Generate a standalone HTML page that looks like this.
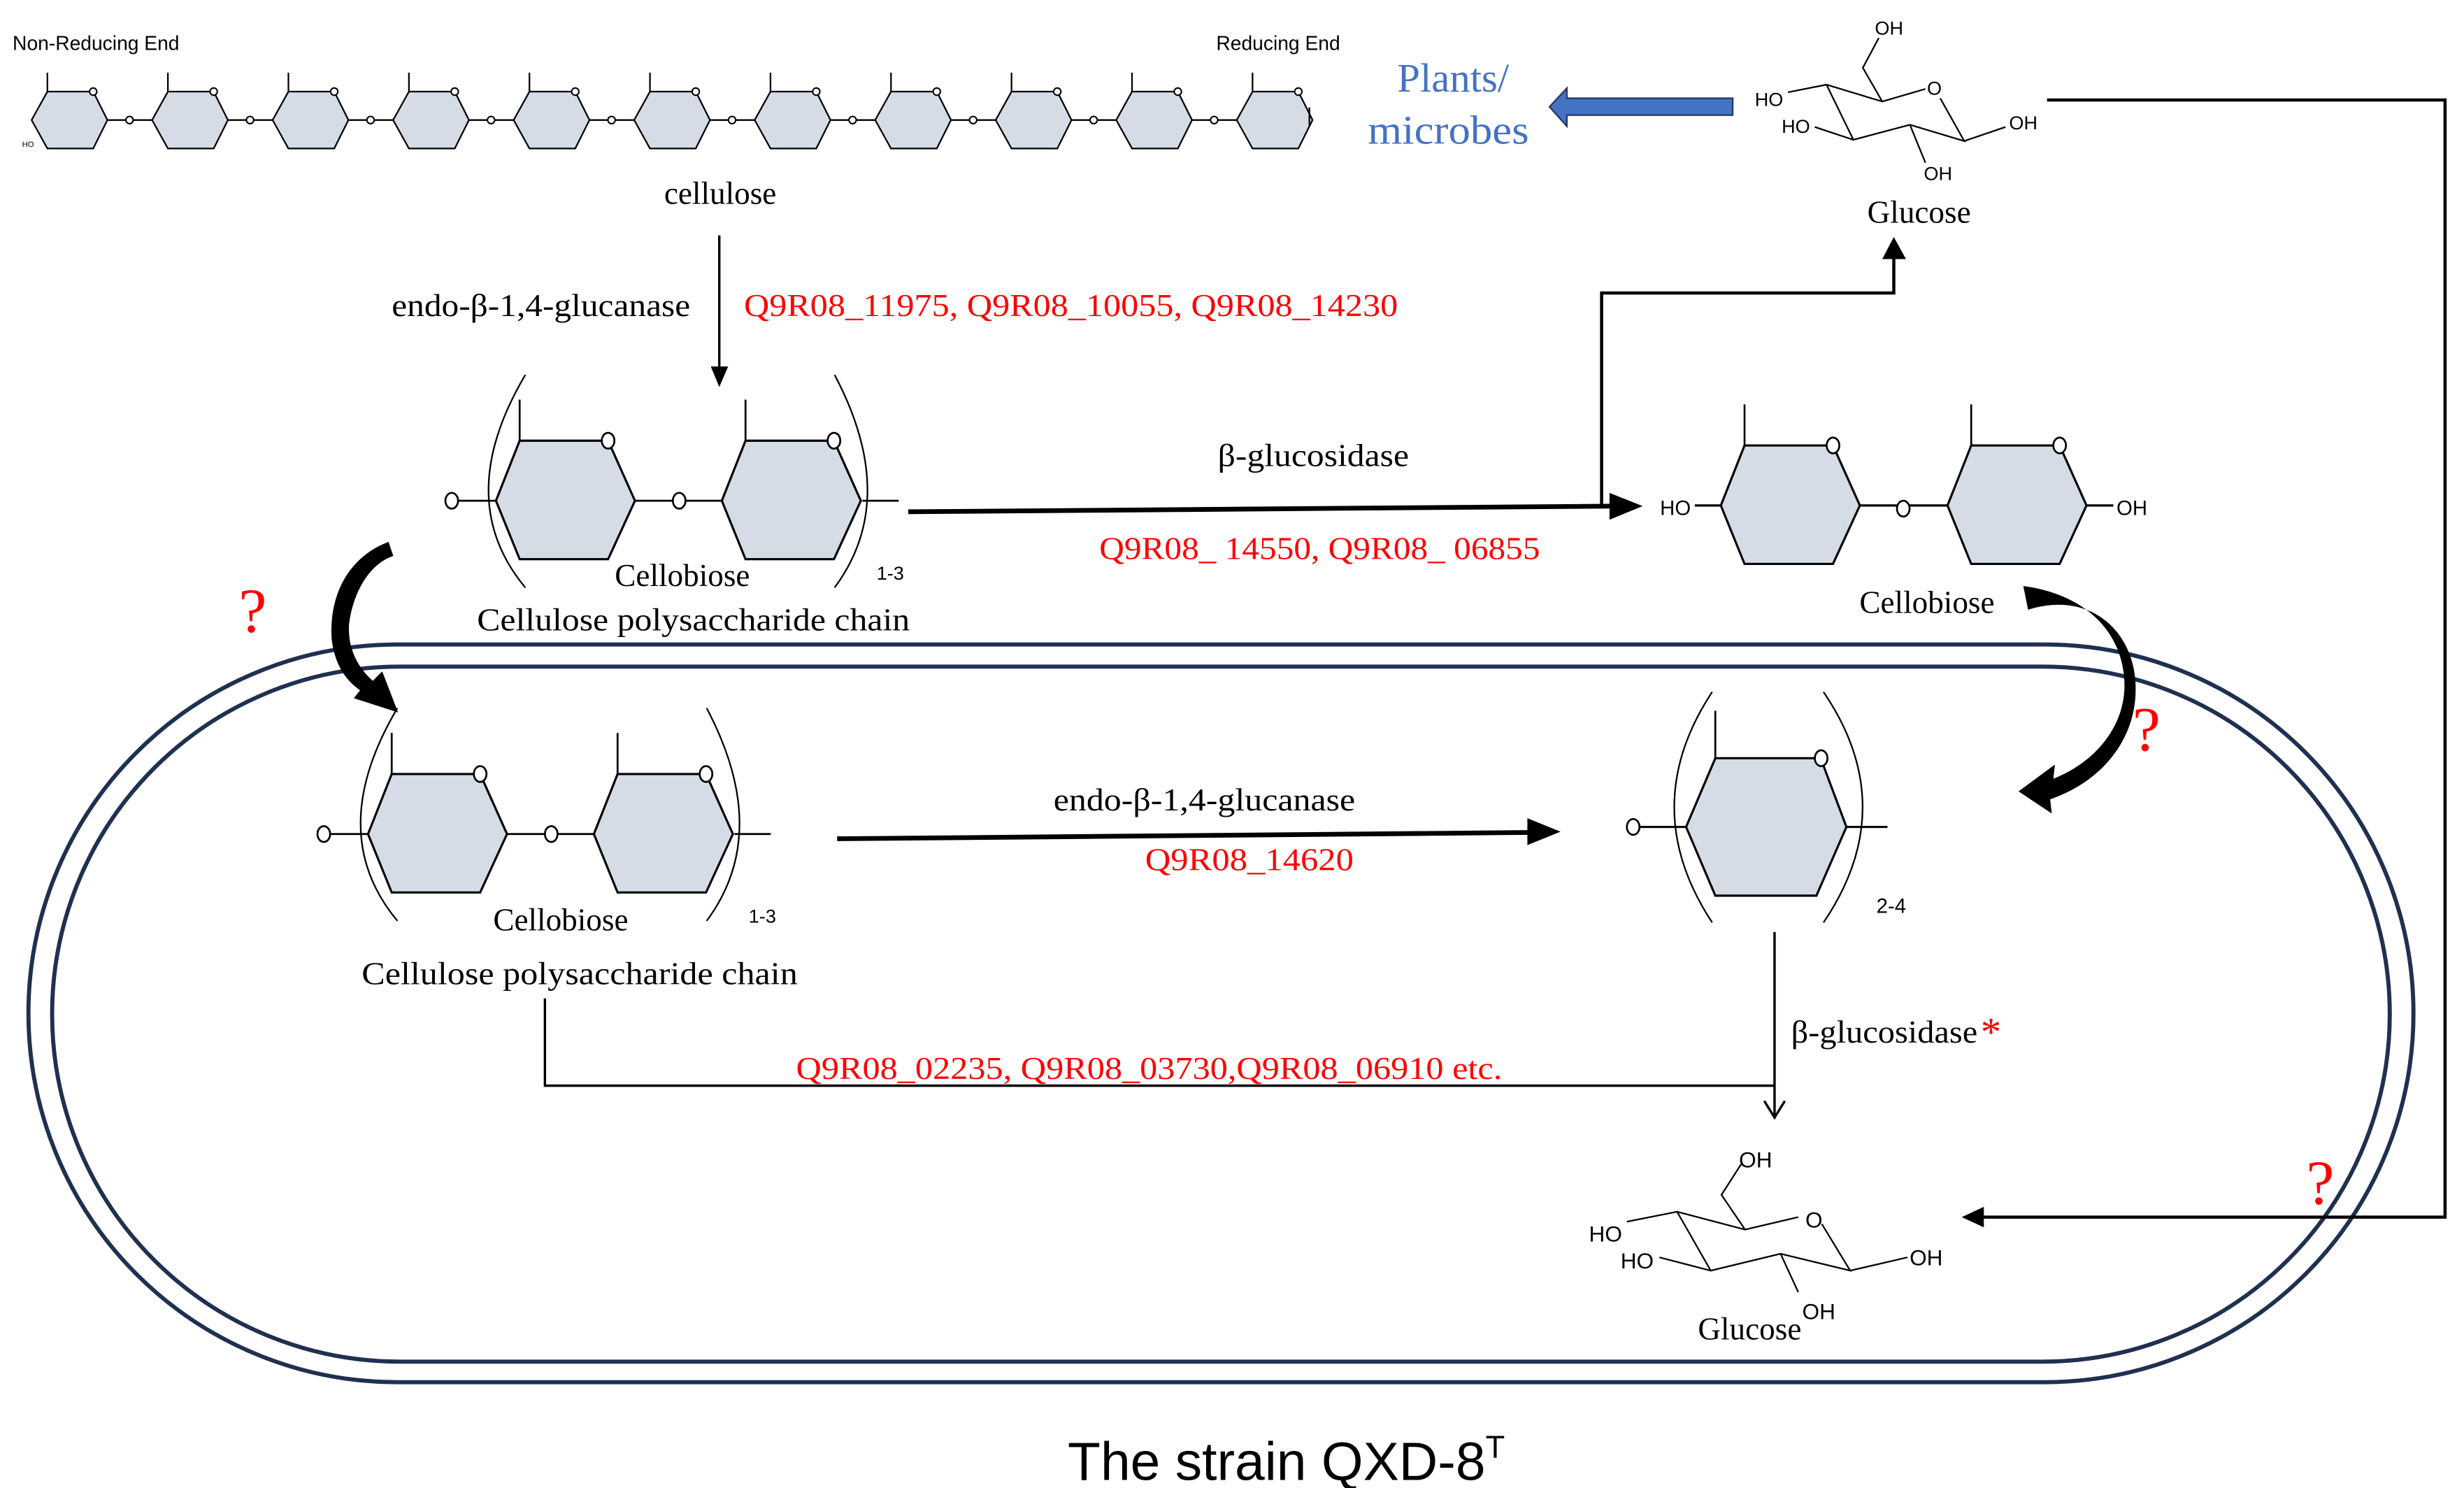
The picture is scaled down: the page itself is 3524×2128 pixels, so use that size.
<!DOCTYPE html>
<html><head><meta charset="utf-8"><style>
html,body{margin:0;padding:0;background:#fff;}
svg{display:block;}
.s{font-family:"Liberation Serif",serif;}
.a{font-family:"Liberation Sans",sans-serif;}
</style></head><body>
<svg width="3524" height="2128" viewBox="0 0 1560 942" preserveAspectRatio="none" xmlns="http://www.w3.org/2000/svg">
<defs>
<g id="ch">
 <line x1="10" y1="58" x2="10" y2="46" stroke="#000" stroke-width="1"/>
 <polygon points="0,76 10,58 39,58 48,76 39,94 10,94" fill="#d5dce6" stroke="#000" stroke-width="1"/>
 <circle cx="39" cy="58" r="2.3" fill="#fff" stroke="#000" stroke-width="0.9"/>
</g>
<g id="lk">
 <line x1="0" y1="76" x2="28.3" y2="76" stroke="#000" stroke-width="1"/>
 <circle cx="14" cy="76" r="2.3" fill="#fff" stroke="#000" stroke-width="0.9"/>
</g>
<g id="hx">
 <line x1="15" y1="-38" x2="15" y2="-64" stroke="#000" stroke-width="1.2"/>
 <polygon points="0,0 15,-38 71,-38 88,0 71,37 15,37" fill="#d5dce6" stroke="#000" stroke-width="1.4"/>
 <ellipse cx="71" cy="-38" rx="4" ry="5" fill="#fff" stroke="#000" stroke-width="1.2"/>
</g>
<g id="cb">
 <line x1="290" y1="317" x2="314" y2="317" stroke="#000" stroke-width="1.2"/>
 <line x1="402" y1="317" x2="457" y2="317" stroke="#000" stroke-width="1.2"/>
 <line x1="546" y1="317" x2="569" y2="317" stroke="#000" stroke-width="1.2"/>
 <ellipse cx="286" cy="317" rx="4" ry="5" fill="#fff" stroke="#000" stroke-width="1.2"/>
 <use href="#hx" x="314" y="317"/>
 <use href="#hx" x="457" y="317"/>
 <ellipse cx="430" cy="317" rx="4" ry="5" fill="#fff" stroke="#000" stroke-width="1.2"/>
 <path d="M332.6,237.3 Q286,316 332.6,372" fill="none" stroke="#000" stroke-width="1"/>
 <path d="M528.4,237.3 Q570,316 528.4,372" fill="none" stroke="#000" stroke-width="1"/>
</g>
</defs>

<!-- membrane -->
<rect x="18" y="408" width="1510" height="467" rx="233.5" ry="233.5" fill="none" stroke="#1f3050" stroke-width="2.6"/>
<rect x="33" y="422" width="1480" height="440" rx="220" ry="220" fill="none" stroke="#1f3050" stroke-width="2.6"/>

<!-- chain -->
<text x="8" y="31.6" class="a" font-size="12.5">Non-Reducing End</text>
<text x="770" y="31.6" class="a" font-size="12.5">Reducing End</text>
<g>
<use href="#lk" x="68"/><use href="#lk" x="144.3"/><use href="#lk" x="220.6"/><use href="#lk" x="296.9"/><use href="#lk" x="373.2"/><use href="#lk" x="449.5"/><use href="#lk" x="525.8"/><use href="#lk" x="602.1"/><use href="#lk" x="678.4"/><use href="#lk" x="754.7"/>
<use href="#ch" x="20"/><use href="#ch" x="96.3"/><use href="#ch" x="172.6"/><use href="#ch" x="248.9"/><use href="#ch" x="325.2"/><use href="#ch" x="401.5"/><use href="#ch" x="477.8"/><use href="#ch" x="554.1"/><use href="#ch" x="630.4"/><use href="#ch" x="706.7"/><use href="#ch" x="783"/>
<line x1="829" y1="68" x2="829" y2="80" stroke="#000" stroke-width="1"/>
<text x="14" y="93" class="a" font-size="5">HO</text>
</g>
<text x="456" y="129" class="s" font-size="20" text-anchor="middle">cellulose</text>

<!-- arrow down -->
<line x1="455.4" y1="149" x2="455.4" y2="234" stroke="#000" stroke-width="1.5"/>
<polygon points="450,232 461,232 455.4,245" fill="#000"/>
<text x="248" y="200" class="s" font-size="20" textLength="189" lengthAdjust="spacingAndGlyphs">endo-β-1,4-glucanase</text>
<text x="471" y="200" class="s" font-size="20" fill="#f00" textLength="414" lengthAdjust="spacingAndGlyphs">Q9R08_11975, Q9R08_10055, Q9R08_14230</text>

<!-- top cellobiose chain -->
<use href="#cb"/>
<text x="432" y="371" class="s" font-size="20" text-anchor="middle">Cellobiose</text>
<text x="555" y="367" class="a" font-size="12">1-3</text>
<text x="302" y="399" class="s" font-size="20" textLength="274" lengthAdjust="spacingAndGlyphs">Cellulose polysaccharide chain</text>

<!-- beta-glucosidase arrow -->
<line x1="575" y1="324" x2="1022" y2="320.4" stroke="#000" stroke-width="3"/>
<polygon points="1019,312 1040,320.4 1019,329" fill="#000"/>
<text x="771" y="295" class="s" font-size="20" textLength="121" lengthAdjust="spacingAndGlyphs">β-glucosidase</text>
<text x="696" y="354" class="s" font-size="20" fill="#f00" textLength="279" lengthAdjust="spacingAndGlyphs">Q9R08_ 14550, Q9R08_ 06855</text>
<polyline points="1014,321 1014,185.5 1199,185.5 1199,162" fill="none" stroke="#000" stroke-width="2"/>
<polygon points="1191.7,164 1206.7,164 1199,150" fill="#000"/>

<!-- right cellobiose -->
<g stroke="#000" stroke-width="1.4">
<line x1="1073" y1="320" x2="1090" y2="320"/>
<line x1="1178" y1="320" x2="1233" y2="320"/>
<line x1="1321" y1="320" x2="1338" y2="320"/>
</g>
<g transform="translate(1089.5,320)"><use href="#hx"/></g>
<g transform="translate(1233,320)"><use href="#hx"/></g>
<ellipse cx="1205" cy="322" rx="4" ry="5" fill="#fff" stroke="#000" stroke-width="1.2"/>
<text x="1051" y="326" class="a" font-size="13">HO</text>
<text x="1340" y="326" class="a" font-size="13">OH</text>
<text x="1220" y="388" class="s" font-size="20" text-anchor="middle">Cellobiose</text>

<!-- top glucose -->
<g stroke="#000" stroke-width="1" fill="none">
<polyline points="1132,58.4 1156.4,53.6 1191.7,64.3 1219,56.3"/>
<polyline points="1228.4,62.2 1243.6,89.3 1209.2,79 1173.4,88.5 1156.4,53.6"/>
<line x1="1173.4" y1="88.5" x2="1149" y2="80.4"/>
<line x1="1209.2" y1="79" x2="1219" y2="103"/>
<line x1="1243.6" y1="89.3" x2="1269.7" y2="80.4"/>
<polyline points="1191.7,64.3 1179.4,42.9 1189.5,24"/>
</g>
<g class="a" font-size="12">
<text x="1187" y="22">OH</text>
<text x="1220" y="60">O</text>
<text x="1111" y="67">HO</text>
<text x="1128" y="84">HO</text>
<text x="1272" y="82">OH</text>
<text x="1218" y="114">OH</text>
</g>
<text x="1215" y="141" class="s" font-size="20" text-anchor="middle">Glucose</text>

<!-- blue arrow -->
<polygon points="1097,62.2 992,62.2 992,55.8 981,67.6 992,79.9 992,72.9 1097,72.9" fill="#4472c4" stroke="#1f3864" stroke-width="1"/>
<text x="920" y="58" class="s" font-size="26" fill="#4472c4" text-anchor="middle">Plants/</text>
<text x="917" y="91" class="s" font-size="26" fill="#4472c4" text-anchor="middle" textLength="102" lengthAdjust="spacingAndGlyphs">microbes</text>

<!-- right outer line -->
<polyline points="1296,63.3 1548,63.3 1548,770.5 1255,770.5" fill="none" stroke="#000" stroke-width="2"/>
<polygon points="1256,764 1242,770.5 1256,777" fill="#000"/>

<!-- curved thick arrows -->
<path d="M246,343 C222,352 208,375 210,405 C212,420 218,430 228,437 L224,442 L252,451 L242,425 L236,431 C226,422 220,410 221,395 C224,372 236,356 249,352 Z" fill="#000"/>
<path d="M1281,371 C1320,376 1344,400 1345,432 C1346,458 1328,482 1300,493 L1301,484 L1278,501 L1299,515 L1298,506 C1333,494 1354,465 1352,432 C1350,398 1322,374 1284,386 Z" fill="#000"/>

<!-- question marks -->
<text x="160" y="400" class="s" font-size="40" fill="#f00" text-anchor="middle">?</text>
<text x="1359" y="475" class="s" font-size="40" fill="#f00" text-anchor="middle">?</text>
<text x="1469" y="762" class="s" font-size="40" fill="#f00" text-anchor="middle">?</text>

<!-- inner cellobiose chain -->
<g transform="translate(-81,211)"><use href="#cb"/></g>
<text x="355" y="589" class="s" font-size="20" text-anchor="middle">Cellobiose</text>
<text x="474" y="584" class="a" font-size="12">1-3</text>
<text x="229" y="623" class="s" font-size="20" textLength="276" lengthAdjust="spacingAndGlyphs">Cellulose polysaccharide chain</text>

<!-- inner endo arrow -->
<line x1="530" y1="531" x2="970" y2="527" stroke="#000" stroke-width="3"/>
<polygon points="967,518 988,526.5 967,535" fill="#000"/>
<text x="667" y="513" class="s" font-size="20" textLength="191" lengthAdjust="spacingAndGlyphs">endo-β-1,4-glucanase</text>
<text x="725" y="551" class="s" font-size="20" fill="#f00" textLength="132" lengthAdjust="spacingAndGlyphs">Q9R08_14620</text>

<!-- single unit -->
<g stroke="#000">
<line x1="1038" y1="523.5" x2="1068" y2="523.5" stroke-width="1.3"/>
<line x1="1169" y1="523.5" x2="1195" y2="523.5" stroke-width="1.3"/>
<line x1="1086" y1="480" x2="1086" y2="450" stroke-width="1.2"/>
<polygon points="1067.5,523.5 1086,480 1152.7,480 1169,523.5 1150,567 1086,567" fill="#d5dce6" stroke-width="1.4"/>
<ellipse cx="1153" cy="480" rx="4" ry="5" fill="#fff" stroke-width="1.2"/>
<ellipse cx="1034" cy="523.5" rx="4" ry="5" fill="#fff" stroke-width="1.2"/>
<path d="M1084,438 Q1036,511 1084,584" fill="none" stroke-width="1"/>
<path d="M1154.5,438 Q1204,511 1154.5,584" fill="none" stroke-width="1"/>
</g>
<text x="1188" y="578" class="a" font-size="13">2-4</text>

<!-- beta-glucosidase inner -->
<line x1="1123.5" y1="590" x2="1123.5" y2="707" stroke="#000" stroke-width="1.5"/>
<polyline points="1117,697 1123.5,707.5 1130,697" fill="none" stroke="#000" stroke-width="1.5"/>
<polyline points="345,632 345,687.3 1123.5,687.3" fill="none" stroke="#000" stroke-width="1.5"/>
<text x="1134" y="660" class="s" font-size="20" textLength="118" lengthAdjust="spacingAndGlyphs">β-glucosidase</text>
<text x="1254" y="662" class="s" font-size="26" fill="#f00">*</text>
<text x="504" y="683" class="s" font-size="20" fill="#f00" textLength="447" lengthAdjust="spacingAndGlyphs">Q9R08_02235, Q9R08_03730,Q9R08_06910 etc.</text>

<!-- bottom glucose -->
<g stroke="#000" stroke-width="1" fill="none">
<polyline points="1030,773.4 1061.8,767.1 1104.8,778.4 1138.5,770.5"/>
<polyline points="1153.4,774.8 1171.4,804.4 1127.3,793.7 1083.1,804.4 1061.8,767.1"/>
<line x1="1083.1" y1="804.4" x2="1050.6" y2="796"/>
<line x1="1127.3" y1="793.7" x2="1138.5" y2="818"/>
<line x1="1171.4" y1="804.4" x2="1207.6" y2="796"/>
<polyline points="1104.8,778.4 1089.9,756.4 1103,736"/>
</g>
<g class="a" font-size="14">
<text x="1101" y="739">OH</text>
<text x="1143" y="777">O</text>
<text x="1006" y="786">HO</text>
<text x="1026" y="803">HO</text>
<text x="1209" y="801">OH</text>
<text x="1141" y="835">OH</text>
</g>
<text x="1075" y="848" class="s" font-size="20">Glucose</text>

<!-- title -->
<text x="676" y="937" class="a" font-size="34">The strain QXD-8<tspan font-size="20" dy="-14">T</tspan></text>
</svg>
</body></html>
